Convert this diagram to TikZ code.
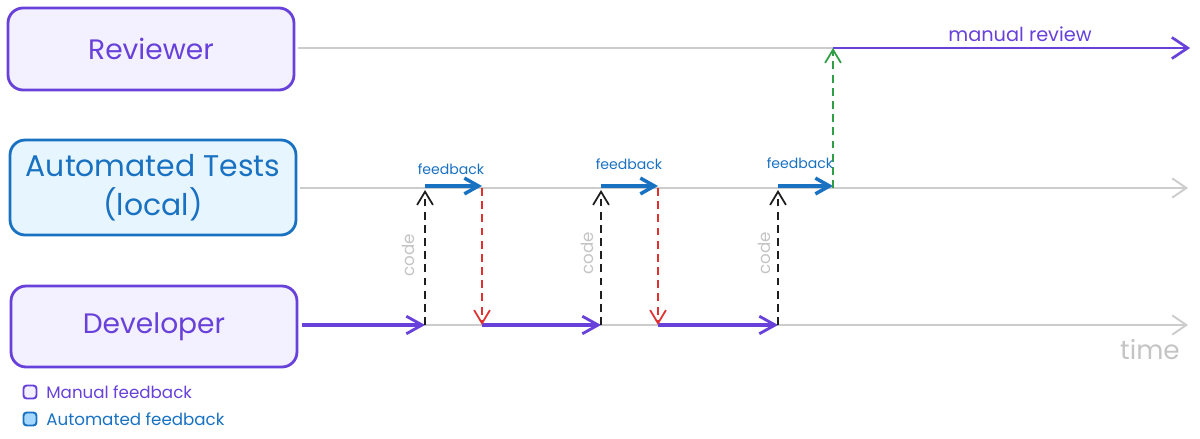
\documentclass[tikz,border=0pt]{standalone}
\usepackage{fontspec}
\setmainfont{Poppins}
\usetikzlibrary{arrows.meta}
\definecolor{cViolet}{HTML}{6741D9}
\definecolor{cLav}{HTML}{F3F0FF}
\definecolor{cBlue}{HTML}{1971C2}
\definecolor{cSky}{HTML}{E7F5FF}
\definecolor{cSkyDark}{HTML}{A5D8FF}
\definecolor{cGrayLine}{HTML}{CCCCCC}
\definecolor{cGrayText}{HTML}{C4C4C4}
\definecolor{cRed}{HTML}{E03131}
\definecolor{cGreen}{HTML}{2F9E44}
\definecolor{cBlack}{HTML}{1E1E1E}
\tikzset{
  actor/.style={rounded corners=0.3cm, line width=1.6pt, minimum width=5.72cm,
    font=\fontsize{16}{20}\selectfont, align=center, inner sep=0pt},
  tip/.style={-{Straight Barb[length=8pt,width=11pt,line width=1.1pt]}},
  gline/.style={tip, draw=cGrayLine, line width=1.1pt},
  pline/.style={-{Straight Barb[length=9pt,width=10pt,line width=1.6pt]}, draw=cViolet, line width=1.8pt},
  bline/.style={-{Straight Barb[length=8pt,width=9pt,line width=2pt]}, draw=cBlue, line width=2.8pt},
  dline/.style={-{Straight Barb[length=7.5pt,width=9pt,line width=1pt]}, dashed, dash pattern=on 4.5pt off 3pt, line width=1pt},
  fblabel/.style={text=cBlue, font=\fontsize{8}{9}\selectfont},
  codelabel/.style={text=cGrayText, font=\fontsize{9.5}{11}\selectfont, rotate=90},
  legbox/.style={rounded corners=1.8pt, line width=1.1pt, minimum size=0.26cm, inner sep=0pt},
  legtext/.style={anchor=west, font=\fontsize{9.5}{11}\selectfont, inner sep=0pt}
}
\begin{document}
\begin{tikzpicture}[x=0.02cm, y=-0.02cm]
\useasboundingbox (0,0) rectangle (1200,439);
% actors
\node[actor, draw=cViolet, fill=cLav, text=cViolet, minimum height=1.64cm] (rev) at (151,49) {Reviewer};
\node[actor, draw=cBlue, fill=cSky, text=cBlue, minimum height=1.9cm, font=\fontsize{17}{22}\selectfont] (auto) at (153,187.5) {Automated Tests\\(local)};
\node[actor, draw=cViolet, fill=cLav, text=cViolet, minimum height=1.62cm] (dev) at (154,326.5) {Developer};
% timeline points
\coordinate (r0) at (298,48);
\coordinate (r6) at (833,48);
\coordinate (rEnd) at (1190,48);
\coordinate (a0) at (300,188);
\coordinate (a1) at (425,188);
\coordinate (a2) at (482,188);
\coordinate (a3) at (601,188);
\coordinate (a4) at (658,188);
\coordinate (a5) at (778,188);
\coordinate (a6) at (833,188);
\coordinate (aEnd) at (1188,188);
\coordinate (d0) at (302,325);
\coordinate (d1) at (425,325);
\coordinate (d2) at (482,325);
\coordinate (d3) at (601,325);
\coordinate (d4) at (658,325);
\coordinate (d5) at (778,325);
\coordinate (dEnd) at (1188,325);
% gray timelines
\draw[gline] (r0) -- (rEnd);
\draw[gline] (a0) -- (aEnd);
\draw[gline] (d0) -- (dEnd);
% developer work
\draw[pline] (d0) -- (d1);
\draw[pline] (d2) -- (d3);
\draw[pline] (d4) -- (d5);
% manual review
\draw[-{Straight Barb[length=9pt,width=12pt,line width=1.5pt]}, draw=cViolet, line width=1.6pt] (r6) -- (rEnd);
% feedback
\draw[bline] ([yshift=0.04cm]a1) -- ([yshift=0.04cm]a2);
\draw[bline] ([yshift=0.04cm]a3) -- ([yshift=0.04cm]a4);
\draw[bline] ([yshift=0.04cm]a5) -- ([yshift=0.04cm]a6);
% code pushes
\draw[dline, draw=cBlack] (d1) -- ([yshift=-0.04cm]a1);
\draw[dline, draw=cBlack] (d3) -- ([yshift=-0.04cm]a3);
\draw[dline, draw=cBlack] (d5) -- ([yshift=-0.04cm]a5);
% failures
\draw[dline, draw=cRed] (a2) -- (d2);
\draw[dline, draw=cRed] (a4) -- (d4);
% pass to review
\draw[dline, draw=cGreen] (a6) -- (r6);
% labels
\node[fblabel] (fb1) at (451,169) {feedback};
\node[fblabel] (fb2) at (629,164) {feedback};
\node[fblabel] (fb3) at (800,163) {feedback};
\node[codelabel] (c1) at (408,255) {code};
\node[codelabel] (c2) at (587,253) {code};
\node[codelabel] (c3) at (764,253) {code};
\node[text=cViolet, font=\fontsize{11}{13}\selectfont] (mr) at (1020,34) {manual review};
\node[text=cGrayText, font=\fontsize{15}{18}\selectfont] (tm) at (1150,350) {time};
% legend
\node[legbox, draw=cViolet, fill=cLav] (lm) at (30,392) {};
\node[legtext, text=cViolet] (lmt) at (46,392) {Manual feedback};
\node[legbox, draw=cBlue, fill=cSkyDark] (la) at (30,419) {};
\node[legtext, text=cBlue] (lat) at (46,419) {Automated feedback};
\end{tikzpicture}
\end{document}
